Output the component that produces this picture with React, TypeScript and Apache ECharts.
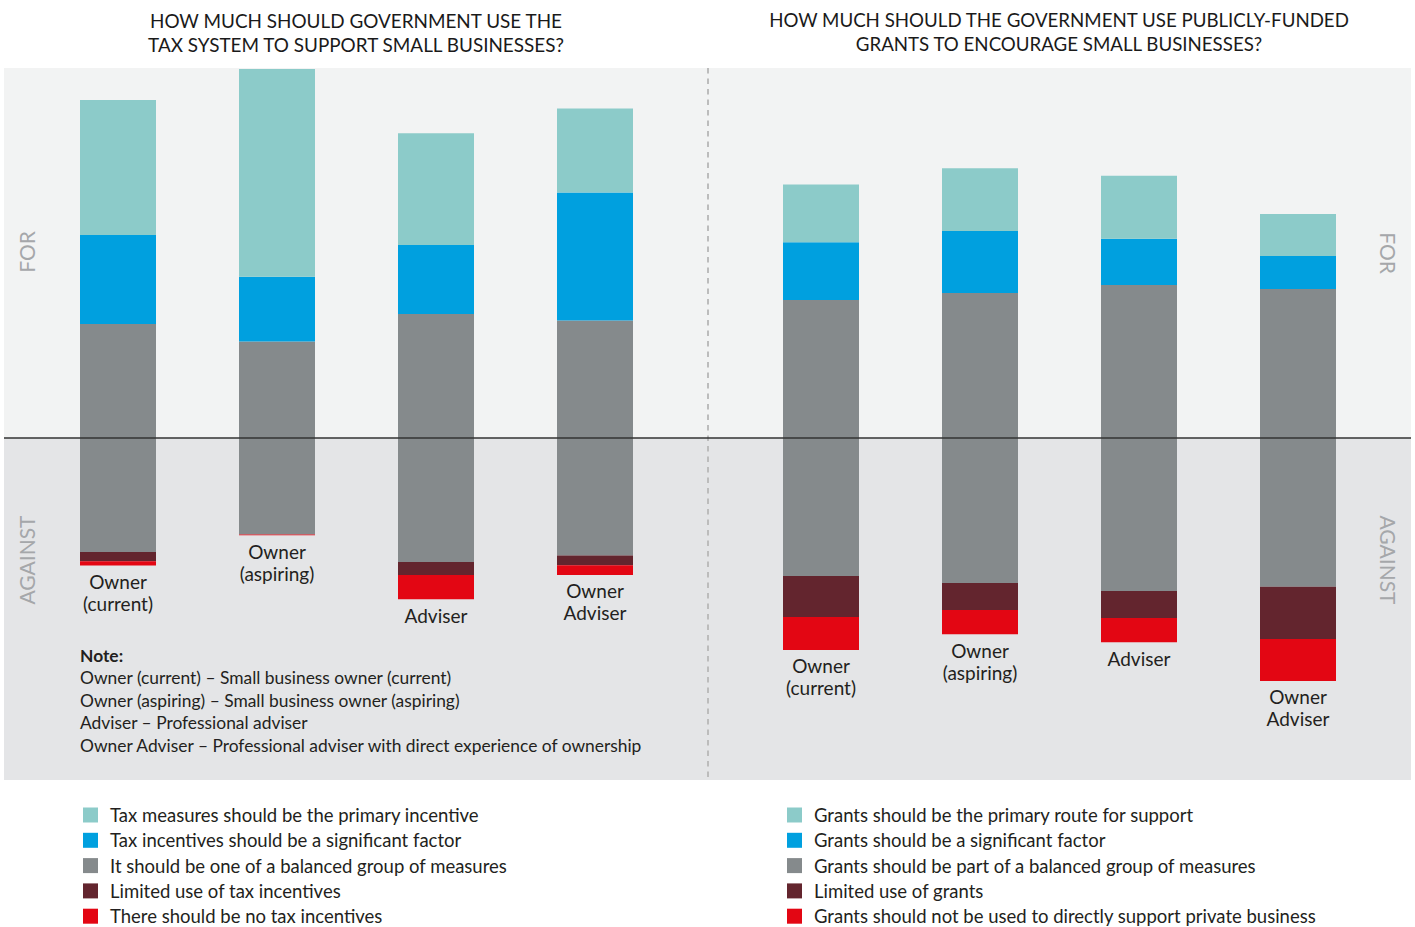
import React, { useEffect, useRef } from 'react';
import * as echarts from 'echarts';

const FONT = "Lato, 'Noto Sans', sans-serif";

const categories = ['Owner (current)', 'Owner (aspiring)', 'Adviser', 'Owner Adviser'];

// Tax panel (percent of respondents)
const taxPrimary = [29.0, 44.6, 24.0, 18.0];
const taxSignificant = [19.1, 13.9, 14.8, 27.5];
const taxBalanced = [48.9, 41.4, 53.2, 50.4];
const taxLimited = [2.0, 0, 2.8, 2.1];
const taxNone = [0.9, 0.2, 5.2, 2.1];

// Grants panel (percent of respondents)
const grantPrimary = [12.4, 13.5, 13.5, 9.0];
const grantSignificant = [12.4, 13.3, 9.9, 7.1];
const grantBalanced = [59.2, 62.2, 65.7, 63.9];
const grantLimited = [8.8, 5.8, 5.8, 11.2];
const grantNone = [7.1, 5.2, 5.2, 9.0];

const taxLegend = [
  'Tax measures should be the primary incentive',
  'Tax incentives should be a significant factor',
  'It should be one of a balanced group of measures',
  'Limited use of tax incentives',
  'There should be no tax incentives',
];
const grantLegend = [
  'Grants should be the primary route for support',
  'Grants should be a significant factor',
  'Grants should be part of a balanced group of measures',
  'Limited use of grants',
  'Grants should not be used to directly support private business',
];

const taxTitle = 'HOW MUCH SHOULD GOVERNMENT USE THE\nTAX SYSTEM TO SUPPORT SMALL BUSINESSES?';
const grantTitle = 'HOW MUCH SHOULD THE GOVERNMENT USE PUBLICLY-FUNDED\nGRANTS TO ENCOURAGE SMALL BUSINESSES?';

const noteLines = [
  'Owner (current) – Small business owner (current)',
  'Owner (aspiring) – Small business owner (aspiring)',
  'Adviser – Professional adviser',
  'Owner Adviser – Professional adviser with direct experience of ownership',
];

const COLORS = ['#8ccbc9', '#00a0df', '#858a8c', '#63252e', '#e30613'];

const Y_MIN = -73.4;
const Y_MAX = 79.4;

function panelSeries(idx: number, names: string[], values: number[][]) {
  const [primary, significant, balanced, limited, none] = values;
  const base = {
    type: 'bar',
    stack: 'panel' + idx,
    stackStrategy: 'samesign',
    xAxisIndex: idx,
    yAxisIndex: idx,
    barWidth: 76,
  };
  return [
    { ...base, name: names[2], data: balanced.map((v) => v / 2), itemStyle: { color: COLORS[2] } },
    { ...base, name: names[2], data: balanced.map((v) => -v / 2), itemStyle: { color: COLORS[2] } },
    { ...base, name: names[1], data: significant, itemStyle: { color: COLORS[1] } },
    { ...base, name: names[3], data: limited.map((v) => -v), itemStyle: { color: COLORS[3] } },
    { ...base, name: names[0], data: primary, itemStyle: { color: COLORS[0] } },
    {
      ...base,
      name: names[4],
      data: none.map((v) => -v),
      itemStyle: { color: COLORS[4] },
      label: {
        show: true,
        position: 'bottom',
        distance: 5,
        formatter: (p: any) => String(p.name).replace(' ', '\n'),
        fontFamily: FONT,
        fontSize: 19,
        lineHeight: 22,
        color: '#231f20',
        align: 'center',
      },
    },
  ];
}

function legendOpt(left: number, names: string[]) {
  return {
    data: names,
    left,
    top: 805.5,
    height: 125,
    orient: 'vertical',
    icon: 'rect',
    itemWidth: 15,
    itemHeight: 15,
    itemGap: 6.3,
    padding: 0,
    selectedMode: false,
    textStyle: {
      fontFamily: FONT,
      fontSize: 18.5,
      color: '#231f20',
      lineHeight: 19,
      padding: [0, 0, 0, 7],
    },
  };
}

const sideText = (x: number, y: number, text: string, rot: number) => ({
  type: 'text',
  x,
  y,
  rotation: rot,
  z: 5,
  style: {
    text,
    x: 0,
    y: 0,
    fill: '#a5a7aa',
    fontFamily: FONT,
    fontSize: 21,
    textAlign: 'center',
    textVerticalAlign: 'middle',
  },
});

export default function App() {
  const ref = useRef<HTMLDivElement>(null);
  useEffect(() => {
    if (!ref.current) return;
    const chart = echarts.init(ref.current, undefined, { renderer: 'svg' });
    const option: any = {
      animation: false,
      backgroundColor: '#ffffff',
      grid: [
        { left: 38.5, width: 636, top: 68, height: 712 },
        { left: 741.5, width: 636, top: 68, height: 712 },
      ],
      xAxis: [
        { type: 'category', gridIndex: 0, data: categories, show: false },
        { type: 'category', gridIndex: 1, data: categories, show: false },
      ],
      yAxis: [
        { type: 'value', gridIndex: 0, min: Y_MIN, max: Y_MAX, show: false, splitLine: { show: false } },
        { type: 'value', gridIndex: 1, min: Y_MIN, max: Y_MAX, show: false, splitLine: { show: false } },
      ],
      legend: [legendOpt(83, taxLegend), legendOpt(787, grantLegend)],
      series: [
        ...panelSeries(0, taxLegend, [taxPrimary, taxSignificant, taxBalanced, taxLimited, taxNone]),
        ...panelSeries(1, grantLegend, [grantPrimary, grantSignificant, grantBalanced, grantLimited, grantNone]),
      ],
      graphic: [
        { type: 'rect', z: -10, shape: { x: 4, y: 68, width: 1407, height: 370 }, style: { fill: '#f2f3f3' }, silent: true },
        { type: 'rect', z: -10, shape: { x: 4, y: 438, width: 1407, height: 342 }, style: { fill: '#e4e5e7' }, silent: true },
        { type: 'line', z: 20, shape: { x1: 708, y1: 68, x2: 708, y2: 780 }, style: { stroke: '#bcbcbc', lineWidth: 2, lineDash: [5.5, 5] }, silent: true },
        { type: 'line', z: 20, shape: { x1: 4, y1: 438, x2: 1411, y2: 438 }, style: { stroke: '#333333', lineWidth: 1.5 }, silent: true },
        {
          type: 'text', z: 5,
          style: { text: taxTitle, x: 356, y: 8, textAlign: 'center', textVerticalAlign: 'top', fontFamily: FONT, fontSize: 18.9, lineHeight: 24, fill: '#1a1a1a' },
        },
        {
          type: 'text', z: 5,
          style: { text: grantTitle, x: 1059, y: 8, textAlign: 'center', textVerticalAlign: 'top', fontFamily: FONT, fontSize: 18.7, lineHeight: 24, fill: '#1a1a1a' },
        },
        sideText(26, 252, 'FOR', Math.PI / 2),
        sideText(26, 560, 'AGAINST', Math.PI / 2),
        sideText(1388, 253, 'FOR', -Math.PI / 2),
        sideText(1388, 560, 'AGAINST', -Math.PI / 2),
        {
          type: 'text', z: 5,
          style: {
            text: '{h|Note:}\n' + noteLines.join('\n'),
            x: 80, y: 644,
            textAlign: 'left', textVerticalAlign: 'top',
            fontFamily: FONT, fontSize: 17.4, lineHeight: 22.5, fill: '#231f20',
            rich: { h: { fontFamily: FONT, fontSize: 17.4, lineHeight: 22.5, fontWeight: 'bold', fill: '#231f20' } },
          },
        },
      ],
    };
    chart.setOption(option);
    return () => chart.dispose();
  }, []);
  return <div ref={ref} style={{ position: 'absolute', left: 0, top: 0, width: 1415, height: 927 }} />;
}
